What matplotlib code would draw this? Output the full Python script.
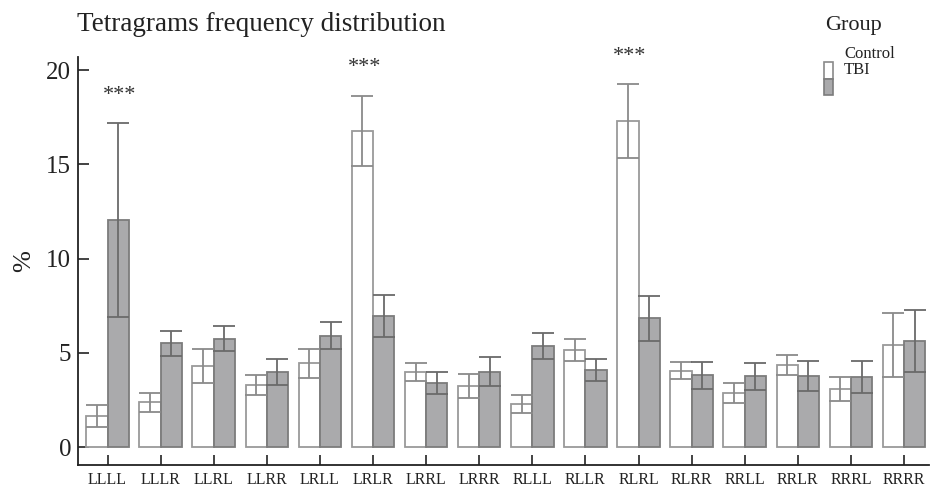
import matplotlib
matplotlib.use("Agg")
import matplotlib.pyplot as plt
import numpy as np
from matplotlib.patches import Rectangle

categories = ["LLLL", "LLLR", "LLRL", "LLRR", "LRLL", "LRLR", "LRRL", "LRRR",
              "RLLL", "RLLR", "RLRL", "RLRR", "RRLL", "RRLR", "RRRL", "RRRR"]
control_mean = [1.66, 2.37, 4.28, 3.27, 4.44, 16.77, 3.98, 3.25,
                2.28, 5.16, 17.30, 4.06, 2.85, 4.35, 3.08, 5.41]
control_err = [0.58, 0.49, 0.90, 0.53, 0.76, 1.86, 0.47, 0.62,
               0.48, 0.60, 1.98, 0.47, 0.53, 0.53, 0.62, 1.71]
tbi_mean = [12.04, 5.50, 5.76, 3.98, 5.90, 6.95, 3.38, 4.01,
            5.37, 4.08, 6.84, 3.80, 3.76, 3.76, 3.70, 5.64]
tbi_err = [5.16, 0.67, 0.67, 0.71, 0.72, 1.12, 0.58, 0.78,
           0.71, 0.59, 1.20, 0.72, 0.71, 0.80, 0.85, 1.66]
sig_groups = ["LLLL", "LRLR", "RLRL"]
sig_offset = [0.23, -0.15, -0.16]
sig_y = [18.4, 19.9, 20.5]
yticks = [0, 5, 10, 15, 20]

SERIF = ["Liberation Serif", "DejaVu Serif"]
plt.rcParams["font.family"] = SERIF

fig = plt.figure(figsize=(9.32, 4.9), dpi=100)
ax = fig.add_axes([78/932, 1-465/490, 1-78/932-3/932, (465-57)/490])

x = np.arange(len(categories))
w = 0.40
ax.bar(x - w/2, control_mean, width=w, facecolor="white", edgecolor="#9a9a9a", linewidth=1.3, zorder=2)
ax.bar(x + w/2, tbi_mean, width=w, facecolor="#aaaaac", edgecolor="#7c7c7c", linewidth=1.3, zorder=2)
ax.errorbar(x - w/2, control_mean, yerr=control_err, fmt="none", ecolor="#8a8a8a",
            elinewidth=1.3, capsize=7.6, capthick=1.3, zorder=3)
ax.errorbar(x + w/2, tbi_mean, yerr=tbi_err, fmt="none", ecolor="#6a6a6a",
            elinewidth=1.3, capsize=7.6, capthick=1.3, zorder=3)

for g, off, yy in zip(sig_groups, sig_offset, sig_y):
    i = categories.index(g)
    ax.text(x[i] + off, yy, "***", ha="center", va="baseline", fontsize=16,
            color="#333333", clip_on=False)

ax.set_xlim(-0.556, 15.47)
ax.set_ylim(-0.95, 20.7)
ax.set_xticks(x)
ax.set_xticklabels(categories, fontsize=11.5)
ax.set_yticks(yticks)
ax.set_yticklabels([str(t) for t in yticks], fontsize=18)
ax.tick_params(axis="x", direction="in", length=7, width=1.2, pad=5, colors="#222222")
ax.tick_params(axis="y", direction="in", length=8, width=1.2, pad=5, colors="#222222")
for s in ["top", "right"]:
    ax.spines[s].set_visible(False)
for s in ["left", "bottom"]:
    ax.spines[s].set_color("#222222")
    ax.spines[s].set_linewidth(1.3)
ax.set_ylabel("%", fontsize=19, labelpad=8, color="#222222")

fig.text(77/932, 1-31/490, "Tetragrams frequency distribution", fontsize=19.5,
         va="baseline", ha="left", color="#222222")
fig.text(825/932, 1-30/490, "Group", fontsize=16, va="baseline", ha="left", color="#222222")
fig.text(844/932, 1-58/490, "Control", fontsize=12, va="baseline", ha="left", color="#222222")
fig.text(844/932, 1-74/490, "TBI", fontsize=12, va="baseline", ha="left", color="#222222")
fig.patches.append(Rectangle((824/932, 1-79/490), 9/932, 17/490, transform=fig.transFigure,
                             facecolor="white", edgecolor="#8a8a8a", linewidth=1.2))
fig.patches.append(Rectangle((824/932, 1-95/490), 9/932, 16/490, transform=fig.transFigure,
                             facecolor="#aaaaac", edgecolor="#7c7c7c", linewidth=1.2))

fig.savefig("out.png", dpi=100)
